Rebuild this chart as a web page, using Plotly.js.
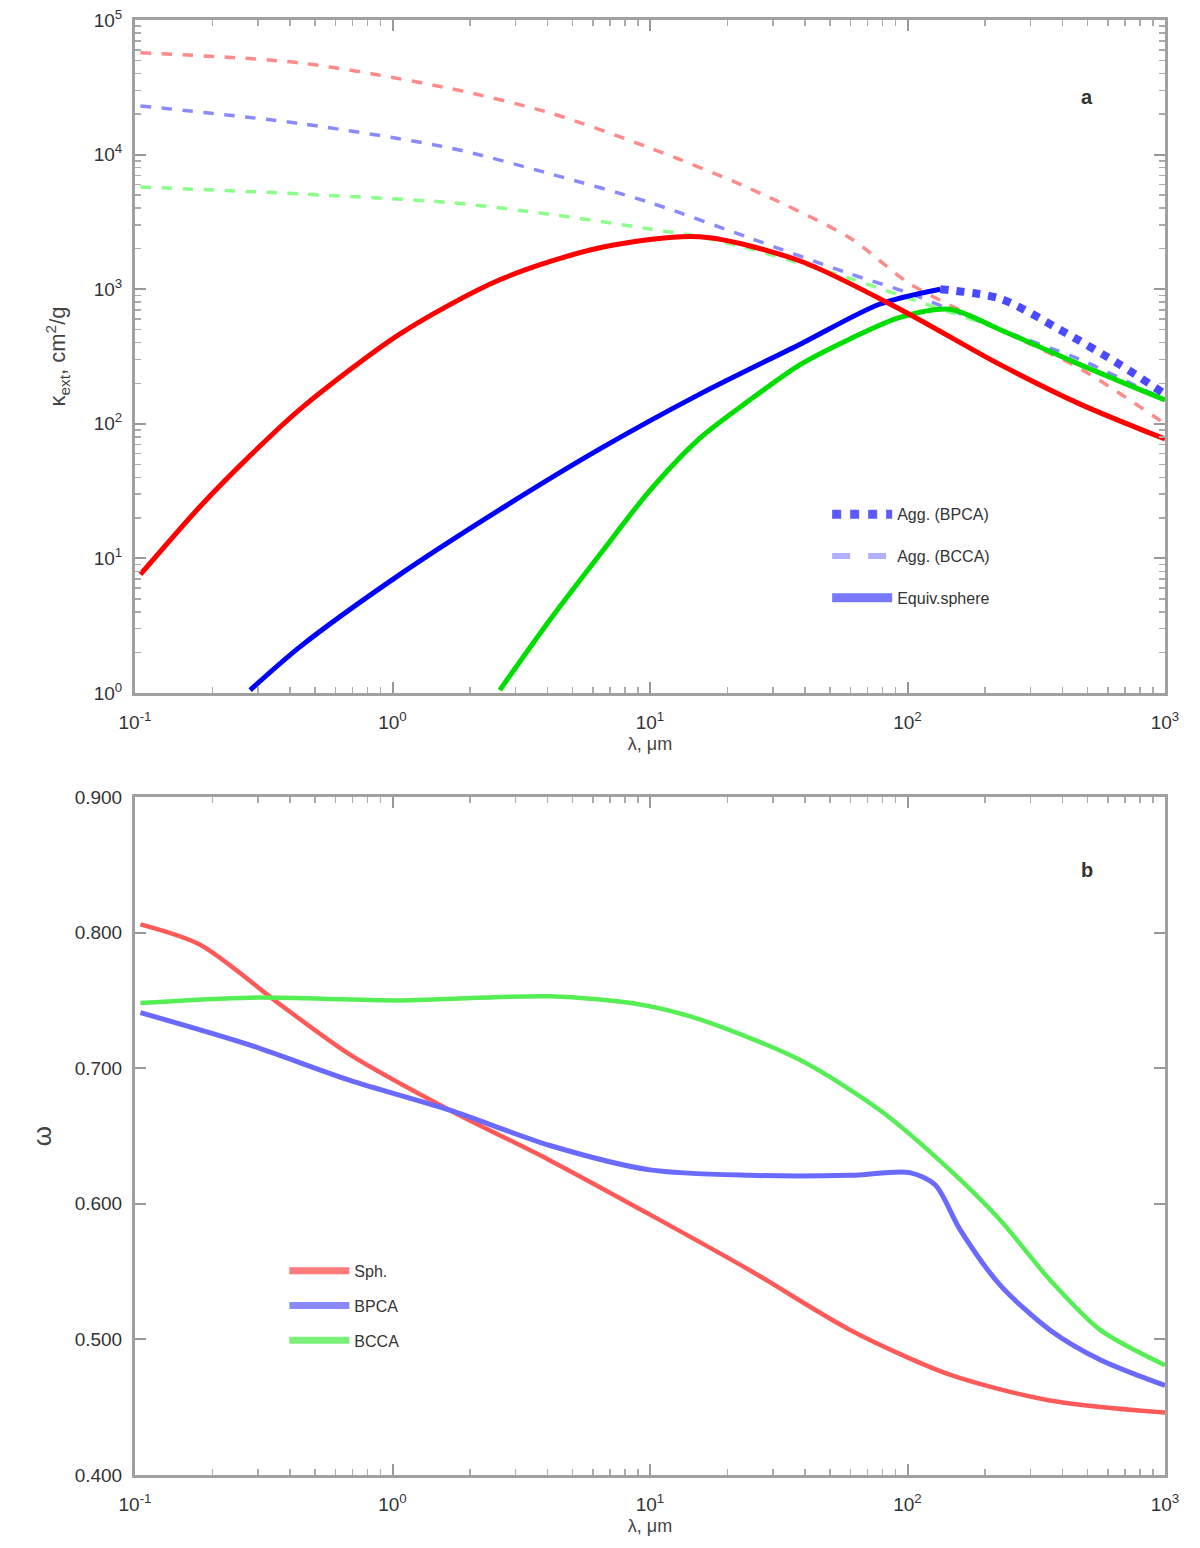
<!DOCTYPE html>
<html>
<head>
<meta charset="utf-8">
<script src="https://cdn.plot.ly/plotly-3.0.1.min.js"></script>
<style>html,body{margin:0;padding:0;background:#fff;}#chart{width:1200px;height:1548px;}</style>
</head>
<body>
<div id="chart"></div>
<script>
// ---------- Panel a data (wavelength in micron, opacity) ----------
const lamRedDash   = [0.105, 0.437, 1.67, 4.09, 10, 24.4, 59.8, 102, 229, 468, 1000];
const valRedDash   = [57000, 48000, 31000, 20400, 11200, 5600, 2400, 1100, 500, 257, 100];
const lamBlueDash  = [0.105, 0.437, 1.67, 4.09, 10, 24.4, 59.8, 102, 229, 468, 1000];
const valBlueDash  = [23000, 17000, 11200, 7200, 4400, 2400, 1300, 930, 500, 300, 150];
const lamGreenDash = [0.105, 0.437, 1.67, 4.09, 10, 15.6, 24.4, 59.8, 102, 229, 468, 1000];
const valGreenDash = [5750, 5100, 4400, 3600, 2800, 2450, 2000, 1200, 850, 500, 275, 150];

const lamRedSolid   = [0.105, 0.179, 0.280, 0.437, 1.07, 2.61, 6.39, 15.6, 38.3, 93.5, 229, 468, 1000];
const valRedSolid   = [7.6, 24.3, 58, 128, 466, 1175, 2030, 2450, 1620, 710, 275, 140, 77];
const lamBlueSolid  = [0.280, 0.437, 1.07, 2.61, 6.39, 15.6, 38.3, 78.2, 134];
const valBlueSolid  = [1.05, 2.2, 7.6, 23, 65, 166, 390, 776, 1000];
const lamBlueDot    = [134, 229, 391, 668, 1000];
const valBlueDot    = [1000, 850, 500, 275, 166];
const lamGreenSolid = [2.61, 4.09, 6.39, 10, 15.6, 24.4, 38.3, 59.8, 93.5, 146, 229, 468, 1000];
const valGreenSolid = [1.05, 3.5, 10.7, 32, 78, 150, 275, 427, 617, 710, 500, 275, 150];

const legendA = ["Agg. (BPCA)", "Agg. (BCCA)", "Equiv.sphere"];

// ---------- Panel b data ----------
const lamB_red   = [0.105, 0.179, 0.366, 0.684, 1.67, 4.09, 10, 24.4, 59.8, 146, 357, 1000];
const valB_red   = [0.806, 0.791, 0.747, 0.710, 0.669, 0.632, 0.592, 0.551, 0.507, 0.474, 0.455, 0.446];
const lamB_blue  = [0.105, 0.280, 0.684, 1.67, 4.09, 10, 24.4, 59.8, 102, 128, 160, 229, 357, 560, 1000];
const valB_blue  = [0.741, 0.717, 0.691, 0.669, 0.643, 0.625, 0.621, 0.621, 0.623, 0.614, 0.581, 0.540, 0.507, 0.485, 0.466];
const lamB_green = [0.105, 0.280, 1.07, 4.09, 9.15, 15.6, 38.3, 78.2, 146, 229, 357, 560, 1000];
const valB_green = [0.748, 0.752, 0.750, 0.753, 0.747, 0.736, 0.706, 0.669, 0.625, 0.588, 0.544, 0.507, 0.481];
const legendB = ["Sph.", "BPCA", "BCCA"];

// ---------- Tick labels ----------
const xTickVals = [0.1, 1, 10, 100, 1000];
const xTickText = ["10<sup>-1</sup>", "10<sup>0</sup>", "10<sup>1</sup>", "10<sup>2</sup>", "10<sup>3</sup>"];
const yaTickVals = [1, 10, 100, 1000, 10000, 100000];
const yaTickText = ["10<sup>0</sup>", "10<sup>1</sup>", "10<sup>2</sup>", "10<sup>3</sup>", "10<sup>4</sup>", "10<sup>5</sup>"];
const ybTickVals = [0.4, 0.5, 0.6, 0.7, 0.8, 0.9];
const ybTickText = ["0.400", "0.500", "0.600", "0.700", "0.800", "0.900"];

function tr(x, y, color, width, dash, xa, ya) {
  return {x: x, y: y, type: 'scatter', mode: 'lines', xaxis: xa, yaxis: ya,
          line: {color: color, width: width, dash: dash || 'solid', shape: 'spline', smoothing: 0.8},
          showlegend: false, hoverinfo: 'skip'};
}

const traces = [
  tr(lamRedDash, valRedDash, '#ff8a8a', 3.5, 'dash', 'x', 'y'),
  tr(lamBlueDash, valBlueDash, '#8a8aff', 3.5, 'dash', 'x', 'y'),
  tr(lamGreenDash, valGreenDash, '#8aff8a', 3.5, 'dash', 'x', 'y'),
  tr(lamGreenSolid, valGreenSolid, '#00dd00', 5, 'solid', 'x', 'y'),
  tr(lamBlueSolid, valBlueSolid, '#0000ff', 5, 'solid', 'x', 'y'),
  tr(lamRedSolid, valRedSolid, '#ff0000', 5, 'solid', 'x', 'y'),
  tr(lamBlueDot, valBlueDot, '#4a4aff', 8, 'dot', 'x', 'y'),
  tr(lamB_red, valB_red, '#ff5a5a', 4.5, 'solid', 'x2', 'y2'),
  tr(lamB_blue, valB_blue, '#6a6aff', 5, 'solid', 'x2', 'y2'),
  tr(lamB_green, valB_green, '#55ee55', 4.5, 'solid', 'x2', 'y2')
];

const legA = [
  {dash: 'dot', width: 9, color: '#5a5aff'},
  {dash: 'dash', width: 6, color: '#b0b0ff'},
  {dash: 'solid', width: 9, color: '#7878ff'}
];
legA.forEach((l, i) => traces.push({x: [null], y: [null], type: 'scatter', mode: 'lines', xaxis: 'x', yaxis: 'y',
  name: legendA[i], legend: 'legend', legendgroup: 'a' + i, line: {color: l.color, width: l.width, dash: l.dash}, showlegend: true}));
const legBcol = ['#ff7a7a', '#8a8aff', '#7af07a'];
legendB.forEach((n, i) => traces.push({x: [null], y: [null], type: 'scatter', mode: 'lines', xaxis: 'x2', yaxis: 'y2',
  name: n, legend: 'legend2', legendgroup: 'b' + i, line: {color: legBcol[i], width: 7}, showlegend: true}));

const minorLog = {ticks: 'inside', ticklen: 6, tickcolor: '#aaa', tickwidth: 1.5, dtick: 'D1'};
const axCommon = {
  showline: true, linecolor: '#a0a0a0', linewidth: 3, mirror: 'allticks',
  ticks: 'inside', ticklen: 11, tickwidth: 2, tickcolor: '#999',
  showgrid: false, zeroline: false, ticklabelstandoff: 6,
  tickfont: {family: 'Liberation Sans, Arial, sans-serif', size: 19, color: '#333'}
};

const layout = {
  width: 1200, height: 1548,
  margin: {l: 135, r: 35, t: 20, b: 73},
  paper_bgcolor: '#fff', plot_bgcolor: '#fff',
  font: {family: 'Liberation Sans, Arial, sans-serif', color: '#333'},
  xaxis: Object.assign({}, axCommon, {type: 'log', range: [-1, 3], domain: [0, 1], anchor: 'y',
    tickvals: xTickVals, ticktext: xTickText, minor: minorLog, ticklabelstandoff: 10,
    title: {text: 'λ, μm', font: {size: 18, color: '#444'}, standoff: 6}}),
  yaxis: Object.assign({}, axCommon, {type: 'log', range: [0, 5], domain: [0.5375, 1], anchor: 'x',
    tickvals: yaTickVals, ticktext: yaTickText, minor: minorLog,
    title: {text: 'κ<sub>ext</sub>, cm<sup>2</sup>/g', font: {size: 22, color: '#444'}, standoff: 22}}),
  xaxis2: Object.assign({}, axCommon, {type: 'log', range: [-1, 3], domain: [0, 1], anchor: 'y2',
    tickvals: xTickVals, ticktext: xTickText, minor: minorLog, ticklabelstandoff: 10,
    title: {text: 'λ, μm', font: {size: 18, color: '#444'}, standoff: 6}}),
  yaxis2: Object.assign({}, axCommon, {range: [0.4, 0.9], domain: [0, 0.466], anchor: 'x2',
    tickvals: ybTickVals, ticktext: ybTickText,
    title: {text: 'ω', font: {size: 26, color: '#444'}, standoff: 16}}),
  legend: {x: 0.672, y: 0.672, xanchor: 'left', yanchor: 'top', bgcolor: 'rgba(0,0,0,0)',
    font: {size: 16, color: '#333'}, traceorder: 'grouped', tracegroupgap: 18, itemwidth: 60},
  legend2: {x: 0.145, y: 0.152, xanchor: 'left', yanchor: 'top', bgcolor: 'rgba(0,0,0,0)',
    font: {size: 16, color: '#333'}, traceorder: 'grouped', tracegroupgap: 11, itemwidth: 60},
  annotations: [
    {xref: 'paper', yref: 'paper', x: 0.932, y: 0.956, text: '<b>a</b>', showarrow: false, font: {size: 20, color: '#333'}},
    {xref: 'paper', yref: 'paper', x: 0.932, y: 0.416, text: '<b>b</b>', showarrow: false, font: {size: 20, color: '#333'}}
  ]
};

Plotly.newPlot('chart', traces, layout, {staticPlot: true});
</script>
</body>
</html>
